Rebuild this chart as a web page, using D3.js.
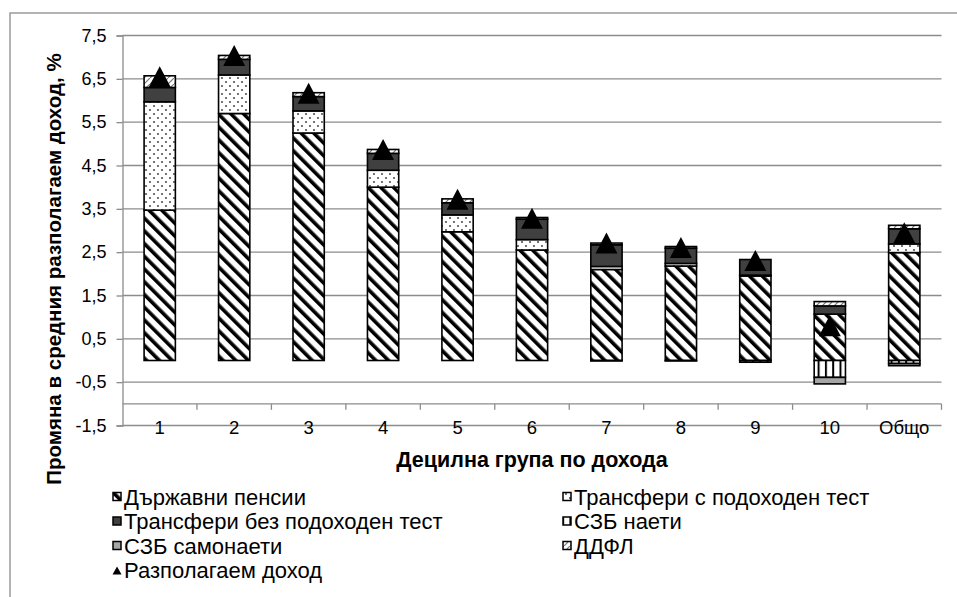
<!DOCTYPE html>
<html><head><meta charset="utf-8">
<script src="https://cdn.jsdelivr.net/npm/d3@7"></script>
<style>html,body{margin:0;padding:0;background:#fff;} svg{display:block;}</style>
</head><body>
<script>
const categories = ["1","2","3","4","5","6","7","8","9","10","Общо"];
const pensions        = [3.47, 5.70, 5.25, 4.00, 2.97, 2.55, 2.10, 2.18, 1.95, 1.07, 2.49];
const meansTested     = [2.50, 0.89, 0.51, 0.39, 0.39, 0.24, 0.07, 0.06, 0.02, 0.00, 0.20];
const nonMeansTested  = [0.33, 0.36, 0.33, 0.39, 0.28, 0.47, 0.50, 0.35, 0.36, 0.19, 0.35];
const sscEmployees    = [0.00, 0.00, 0.00, 0.00, 0.00, 0.00, -0.01, -0.01, -0.04, -0.39, -0.07];
const sscSelfEmployed = [0.00, 0.00, 0.00, 0.00, 0.00, 0.00, 0.00, 0.00, 0.00, -0.15, -0.05];
const pit             = [0.27, 0.09, 0.09, 0.09, 0.09, 0.04, 0.04, 0.04, 0.00, 0.10, 0.08];
const disposable      = [6.55, 7.04, 6.17, 4.87, 3.72, 3.28, 2.71, 2.61, 2.31, 0.80, 2.95];
const yTicks = [-1.5, -0.5, 0.5, 1.5, 2.5, 3.5, 4.5, 5.5, 6.5, 7.5];
const seriesNames = ["Държавни пенсии","Трансфери с подоходен тест","Трансфери без подоходен тест","СЗБ наети","СЗБ самонаети","ДДФЛ"];
const lineName = "Разполагаем доход";
const xTitle = "Децилна група по дохода";
const yTitle = "Промяна в средния разполагаем доход, %";

const W = 957, H = 597;
const svg = d3.select("body").append("svg").attr("width", W).attr("height", H)
  .style("font-family", "'Liberation Sans', Arial, sans-serif");

// patterns
const defs = svg.append("defs");
const pp = defs.append("pattern").attr("id","pat0").attr("patternUnits","userSpaceOnUse")
  .attr("width",9).attr("height",9).attr("patternTransform","rotate(-45)");
pp.append("rect").attr("width",9).attr("height",9).attr("fill","#fff");
pp.append("rect").attr("width",3.6).attr("height",9).attr("fill","#000");
const pd = defs.append("pattern").attr("id","pat1").attr("patternUnits","userSpaceOnUse")
  .attr("width",8).attr("height",8);
pd.append("rect").attr("width",8).attr("height",8).attr("fill","#fff");
pd.append("circle").attr("cx",2).attr("cy",2).attr("r",0.9).attr("fill","#333");
pd.append("circle").attr("cx",6).attr("cy",6).attr("r",0.9).attr("fill","#333");
const pv = defs.append("pattern").attr("id","pat3").attr("patternUnits","userSpaceOnUse")
  .attr("width",7.3).attr("height",8);
pv.append("rect").attr("width",7.3).attr("height",8).attr("fill","#fff");
pv.append("rect").attr("x",0).attr("width",2).attr("height",8).attr("fill","#000");
const pt = defs.append("pattern").attr("id","pat5").attr("patternUnits","userSpaceOnUse")
  .attr("width",6).attr("height",6);
pt.append("rect").attr("width",6).attr("height",6).attr("fill","#fff");
pt.append("path").attr("d","M0,6L6,0").attr("stroke","#777").attr("stroke-width",1.2);
const fills = ["url(#pat0)","url(#pat1)","#404040","url(#pat3)","#a6a6a6","url(#pat5)"];

// frame
svg.append("rect").attr("x",10).attr("y",13).attr("width",W+20).attr("height",H+20)
  .attr("fill","none").attr("stroke","#8c8c8c").attr("stroke-width",1.3);

const x = d3.scaleBand().domain(categories).range([122.5, 941.5]).paddingInner(0.58).paddingOuter(0.29);
const xb = d3.scaleBand().domain(categories).range([122.5, 941.5]);
const y = d3.scaleLinear().domain([-1.5, 7.5]).range([425.5, 35.5]);
const loc = d3.formatLocale({decimal:",", thousands:" ", grouping:[3], currency:["",""], minus:"-"});
const fmt = loc.format(".1f");
const gray = "#8c8c8c";

// gridlines + y axis
const yAxis = d3.axisLeft(y).tickValues(yTicks).tickFormat(fmt).tickSize(6).tickPadding(10);
const gy = svg.append("g").attr("transform","translate(122.5,0)").call(yAxis);
gy.select(".domain").attr("stroke",gray).attr("stroke-width",1.3);
gy.selectAll(".tick line").attr("stroke",gray).attr("stroke-width",1.3);
gy.selectAll(".tick text").attr("font-size",18).attr("fill","#000").attr("font-family","'Liberation Sans', Arial, sans-serif");
svg.append("g").selectAll("line").data(yTicks).join("line")
  .attr("x1",122.5).attr("x2",941.5).attr("y1",d=>y(d)).attr("y2",d=>y(d))
  .attr("stroke",gray).attr("stroke-width",1.3);

// x axis at -1
const xAxisY = y(-1.0);
svg.append("line").attr("x1",122.5).attr("x2",941.5).attr("y1",xAxisY).attr("y2",xAxisY)
  .attr("stroke",gray).attr("stroke-width",1.3);
const bounds = categories.map(c=>xb(c)).concat([xb(categories[categories.length-1])+xb.bandwidth()]);
svg.append("g").selectAll("line").data(bounds.slice(1)).join("line")
  .attr("x1",d=>d).attr("x2",d=>d).attr("y1",xAxisY).attr("y2",xAxisY+6)
  .attr("stroke",gray).attr("stroke-width",1.3);
svg.append("g").selectAll("text").data(categories).join("text")
  .attr("x",d=>xb(d)+xb.bandwidth()/2).attr("y",433.5).attr("text-anchor","middle")
  .attr("font-size",18.5).text(d=>d);

// stacked bars
const table = categories.map((c,i)=>({cat:c, s0:pensions[i], s1:meansTested[i], s2:nonMeansTested[i], s3:sscEmployees[i], s4:sscSelfEmployed[i], s5:pit[i]}));
const keys = ["s0","s1","s2","s3","s4","s5"];
const stack = d3.stack().keys(keys).offset(d3.stackOffsetDiverging)(table);
const gb = svg.append("g");
stack.forEach((layer,k)=>{
  gb.append("g").selectAll("rect").data(layer.filter(d=>d[1]-d[0]!==0)).join("rect")
    .attr("x",d=>x(d.data.cat)).attr("width",x.bandwidth())
    .attr("y",d=>y(d[1])).attr("height",d=>y(d[0])-y(d[1]))
    .attr("fill",fills[k]).attr("stroke","#000").attr("stroke-width",1.6);
});

// triangles
const tri = "M0,-10.5L11,10.5L-11,10.5Z";
svg.append("g").selectAll("path").data(categories).join("path")
  .attr("d",tri).attr("fill","#000")
  .attr("transform",(d,i)=>`translate(${xb(d)+xb.bandwidth()/2},${y(disposable[i])})`);

// titles
svg.append("text").attr("x",532).attr("y",467).attr("text-anchor","middle")
  .attr("font-size",21.5).attr("font-weight","bold").text(xTitle);
svg.append("text").attr("transform","translate(61,269) rotate(-90)").attr("text-anchor","middle")
  .attr("font-size",20.5).attr("font-weight","bold").text(yTitle);

// legend
const legItems = [
  {name:seriesNames[0], k:0, col:0, row:0},
  {name:seriesNames[1], k:1, col:1, row:0},
  {name:seriesNames[2], k:2, col:0, row:1},
  {name:seriesNames[3], k:3, col:1, row:1},
  {name:seriesNames[4], k:4, col:0, row:2},
  {name:seriesNames[5], k:5, col:1, row:2},
  {name:lineName, k:-1, col:0, row:3}
];
const colX = [113, 563], rowY = [497, 521.5, 546, 570.5];
const lg = svg.append("g");
legItems.forEach(it=>{
  const gx = colX[it.col], gyy = rowY[it.row];
  if (it.k>=0) {
    lg.append("rect").attr("x",gx).attr("y",gyy-4.5).attr("width",8).attr("height",8)
      .attr("fill",fills[it.k]).attr("stroke","#000").attr("stroke-width",1.5);
  } else {
    lg.append("path").attr("d","M0,-4L4.5,4L-4.5,4Z").attr("fill","#000")
      .attr("transform",`translate(${gx+4},${gyy})`);
  }
  lg.append("text").attr("x",gx+11).attr("y",gyy+7.5).attr("font-size",22).text(it.name);
});
</script>
</body></html>
